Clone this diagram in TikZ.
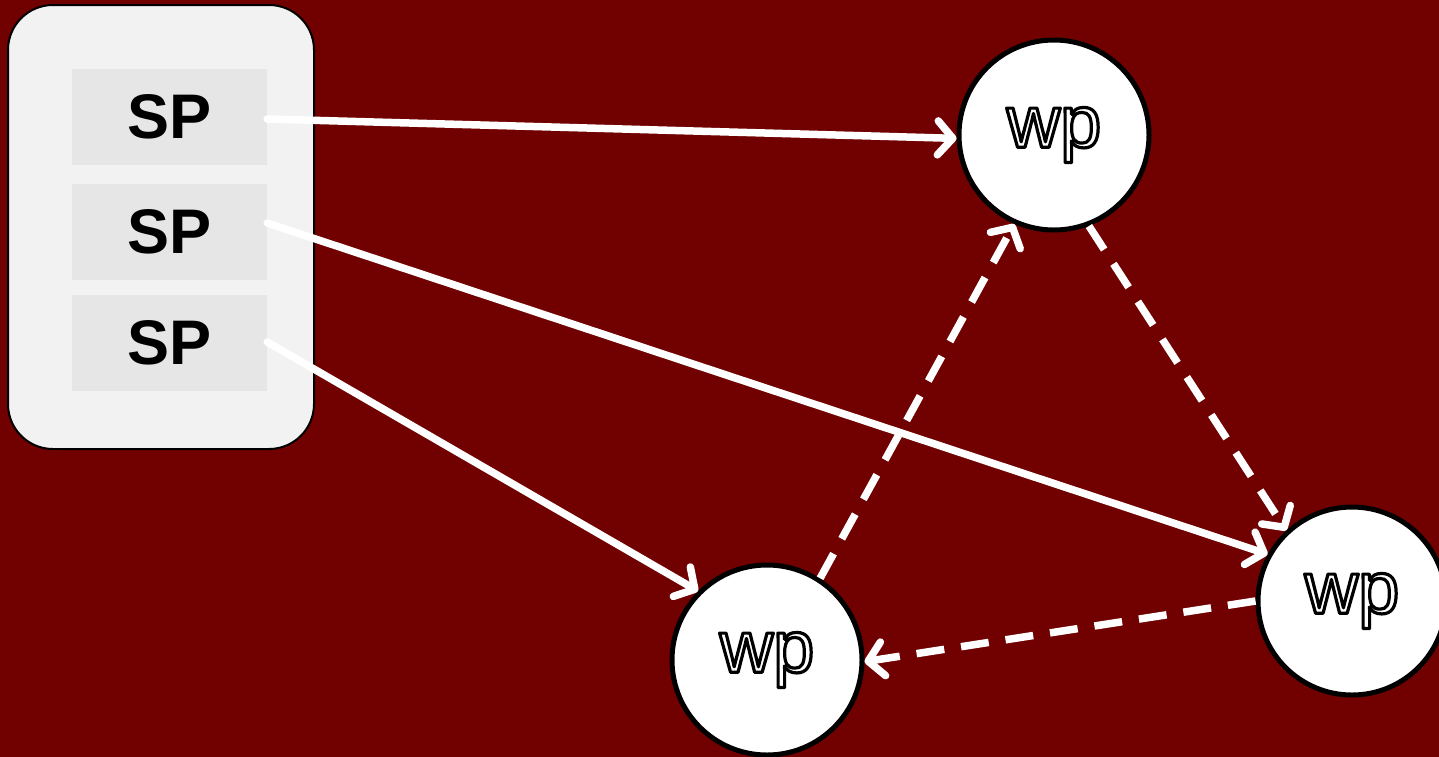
\documentclass[tikz,border=0pt]{standalone}
\usepackage{fontspec}
\setmainfont{Liberation Sans}
\usetikzlibrary{arrows.meta}
\definecolor{bgred}{RGB}{113,0,0}
\definecolor{poolfill}{RGB}{242,242,242}
\definecolor{spfill}{RGB}{230,230,230}
\tikzset{
  pool/.style={draw=black, line width=2pt, fill=poolfill, rounded corners=45pt, minimum width=306pt, minimum height=444pt, inner sep=0pt},
  spbox/.style={fill=spfill, minimum width=195pt, minimum height=96pt, inner sep=0pt, font=\fontsize{63}{63}\selectfont\bfseries},
  wpnode/.style={circle, draw=black, line width=5pt, fill=white, minimum size=#1, inner sep=0pt, font=\fontsize{74}{74}\selectfont},
  conn/.style={draw=white, line width=7.5pt, line cap=round, -{Straight Barb[length=15pt,width=34pt,round]}},
  dconn/.style={conn, line cap=butt, dash pattern=on 28pt off 17pt}
}
\newcommand{\wptext}{\special{pdf:code q 2 Tr 3.2 w 1 j 0 G 1 g}wp\special{pdf:code Q}}
\begin{document}
\begin{tikzpicture}[x=1pt,y=-1pt]
\useasboundingbox (0,0) rectangle (1439,756);
\fill[bgred] (-10,-10) rectangle (1449,766);
\node[pool] (pool) at (161,227) {};
\node[spbox] (sp1) at (169.5,117) {SP};
\node[spbox] (sp2) at (169.5,232) {SP};
\node[spbox] (sp3) at (169.5,343) {SP};
\node[wpnode=190pt] (wpa) at (1054,135) {\wptext};
\node[wpnode=190pt] (wpb) at (767,660) {\wptext};
\node[wpnode=188pt] (wpc) at (1352,601) {\wptext};
\draw[conn] ([yshift=-2pt]sp1.east) -- (wpa.182);
\draw[conn] ([yshift=9pt]sp2.east) -- (wpc.151);
\draw[conn] ([yshift=1pt]sp3.east) -- (wpb.135);
\draw[dconn] (wpb.57) -- (wpa.-114);
\draw[dconn] (wpa.-69) -- (wpc.133);
\draw[dconn] (wpc.180) -- (wpb.-1);
\end{tikzpicture}
\end{document}
